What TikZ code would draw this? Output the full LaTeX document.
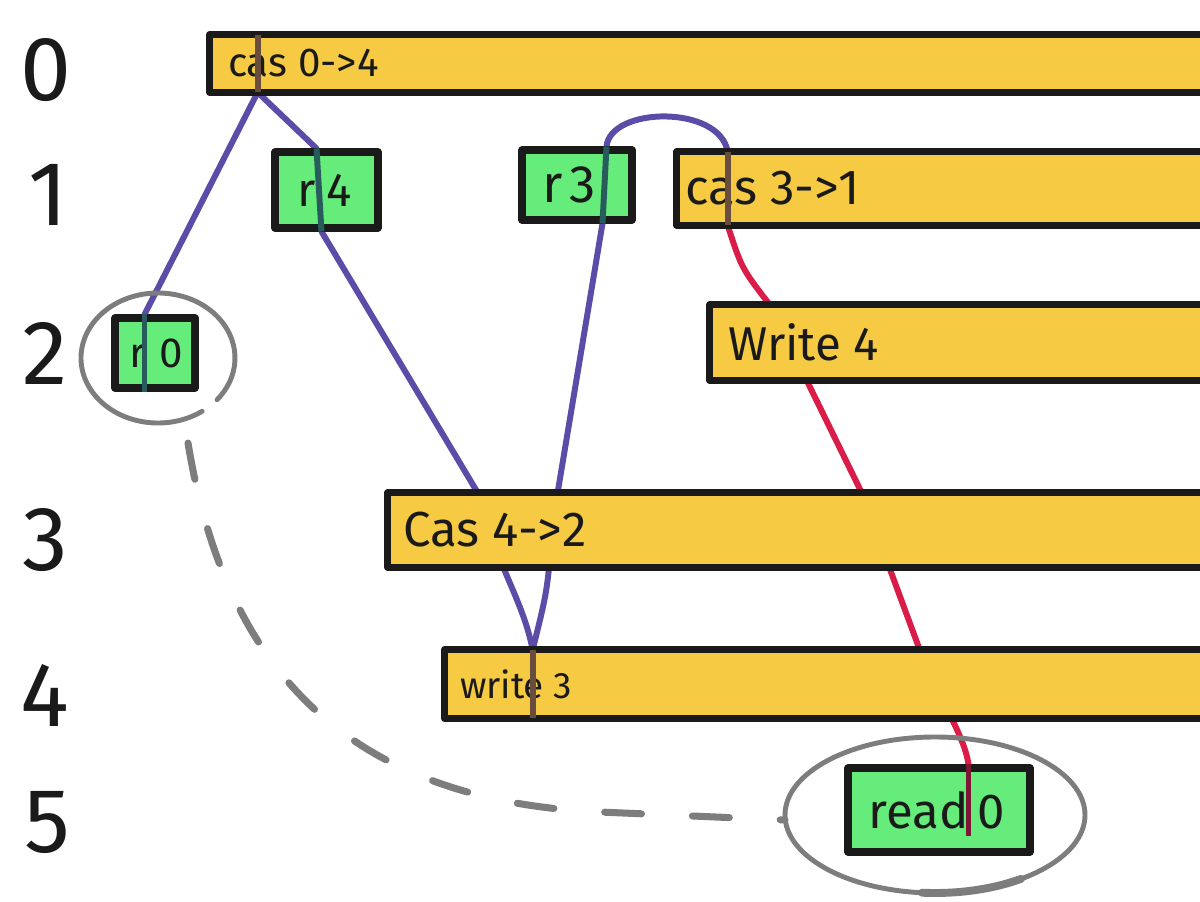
\documentclass[tikz,border=0pt]{standalone}
\usepackage{fontspec}
\setmainfont{Fira Sans}
\usetikzlibrary{calc,fit,backgrounds}

\definecolor{ink}{RGB}{26,26,26}
\definecolor{barfill}{RGB}{246,202,66}
\definecolor{boxfill}{RGB}{102,236,122}
\definecolor{purp}{RGB}{92,76,168}
\definecolor{redline}{RGB}{218,28,72}
\definecolor{halo}{RGB}{125,125,125}
\definecolor{onbar}{RGB}{105,78,62}
\definecolor{onbox}{RGB}{40,92,92}
\definecolor{redonbox}{RGB}{125,22,52}

\begin{document}
\begin{tikzpicture}[x=0.02cm,y=-0.02cm,
  bar/.style={fill=barfill, inner sep=0pt},
  outline/.style={draw=ink, line width=4pt, line cap=round, line join=round},
  gbox/.style={fill=boxfill, draw=ink, line width=4pt, inner sep=0pt, line join=round},
  rowlabel/.style={font=\fontsize{52}{52}\selectfont, text=ink, inner sep=0pt},
  bartext/.style={text=ink, inner sep=0pt, anchor=west},
  boxtext/.style={text=ink, inner sep=0pt},
  link/.style={line width=3.4pt, line cap=round, line join=round},
  hb/.style={link, draw=purp},
  rb/.style={link, draw=redline},
  eventline/.style={line width=3.4pt},
  ring/.style={draw=halo, line width=2.8pt, line cap=round},
  trail/.style={draw=halo, line width=4pt, line cap=round, dash pattern=on 21pt off 29pt}
]
\clip (0,0) rectangle (1200,902);

% row numbers
\node[rowlabel] (n0) at (46,70) {0};
\node[rowlabel] (n1) at (48,195) {1};
\node[rowlabel] (n2) at (45,353) {2};
\node[rowlabel] (n3) at (45,540) {3};
\node[rowlabel] (n4) at (45,695) {4};
\node[rowlabel] (n5) at (47,822) {5};

% long operations
\node[bar, fit={(210,35) (1215,92)}] (b0) {};
\node[bar, fit={(677,152) (1215,225)}] (b1) {};
\node[bar, fit={(710,305) (1215,380)}] (b2) {};
\node[bar, fit={(388,493) (1215,567)}] (b3) {};
\node[bar, fit={(445,650) (1215,718)}] (b4) {};
\foreach \b in {b0,b1,b2,b3,b4}
  \draw[outline] (\b.north east) -- (\b.north west) -- (\b.south west) -- (\b.south east);

\node[bartext, font=\fontsize{23}{23}\selectfont] (t0) at ($(b0.west)+(18,0)$) {cas 0->4};
\node[bartext, font=\fontsize{28}{28}\selectfont] (t1) at ($(b1.west)+(8,0)$) {cas 3->1};
\node[bartext, font=\fontsize{27}{27}\selectfont] (t2) at ($(b2.west)+(18,0)$) {Write 4};
\node[bartext, font=\fontsize{28}{28}\selectfont] (t3) at ($(b3.west)+(15,0)$) {Cas 4->2};
\node[bartext, font=\fontsize{21}{21}\selectfont] (t4) at ($(b4.west)+(15,0)$) {write 3};

% short reads
\node[gbox, fit={(275,152) (378,228)}] (r4) {};
\node[gbox, fit={(522,150) (632,220)}] (r3) {};
\node[gbox, fit={(115,318) (195,388)}] (r0) {};
\node[gbox, fit={(848,768) (1030,852)}] (read0) {};
\node[boxtext, font=\fontsize{27}{27}\selectfont] (r4t) at ($(r4)+(-2,0)$) {r\hspace{6pt}4};
\node[boxtext, font=\fontsize{30}{30}\selectfont] (r3t) at ($(r3)+(-8,0)$) {r\hspace{4pt}3};
\node[boxtext, font=\fontsize{24}{24}\selectfont] (r0t) at ($(r0)+(1,0)$) {r\hspace{8pt}0};
\node[boxtext, font=\fontsize{28}{28}\selectfont] (read0t) at ($(read0)+(-2,0)$) {read\hspace{5pt}0};

% attachment points
\coordinate (e0) at ($(b0.south west)+(48,0)$);
\coordinate (r0in) at ($(r0.north west)+(33,0)$);
\coordinate (r0out) at ($(r0.south west)+(33,0)$);
\coordinate (r4in) at ($(r4.north west)+(45,0)$);
\coordinate (r4out) at ($(r4.south west)+(50,0)$);
\coordinate (b3a) at ($(b3.north west)+(90,0)$);
\coordinate (w3) at ($(b4.north west)+(88,0)$);
\coordinate (r3out) at ($(r3.south west)+(84,0)$);
\coordinate (r3in) at ($(r3.north west)+(88,0)$);
\coordinate (c1) at ($(b1.north west)+(51,0)$);
\coordinate (c1b) at ($(b1.south west)+(51,0)$);
\coordinate (rd) at ($(read0.north west)+(124,0)$);

% connectors run underneath the boxes
\begin{pgfonlayer}{background}
  \draw[hb] (e0) -- (r0in);
  \draw[hb] (e0) -- (r4in);
  \draw[hb] (r4out) -- (b3a) .. controls ($(b3a)+(22,80)$) and ($(w3)+(-10,-50)$) .. (w3);
  \draw[hb] (w3) .. controls ($(w3)+(15,-60)$) .. ($(r3out)+(-50,300)$) -- (r3out);
  \draw[hb] (r3in) .. controls ($(r3in)+(4,-40)$) and ($(c1)+(-8,-47)$) .. (c1);
  \draw[rb] (c1b) .. controls ($(c1b)+(14,43)$) .. ($(b2.north west)+(60,0)$)
     -- ($(b3.north west)+(474,0)$) -- ($(b4.north west)+(475,0)$)
     .. controls ($(b4.north west)+(500,60)$) and ($(rd)+(-4,-28)$) .. (rd);
\end{pgfonlayer}

% where each connector meets an operation
\draw[eventline, draw=onbar] (e0) -- (e0 |- b0.north);
\draw[eventline, draw=onbar] (w3) -- (w3 |- b4.south);
\draw[eventline, draw=onbar] (c1) -- (c1b);
\draw[eventline, draw=onbox] (r0in) -- (r0out);
\draw[eventline, draw=onbox] (r4in) -- (r4out);
\draw[eventline, draw=onbox] (r3out) -- (r3in);
\draw[eventline, draw=redonbox] (rd) -- ($(rd)+(0,72)$);

% highlighted reads and the link between them
\coordinate (ring0) at ($(r0.center)+(3,5)$);
\coordinate (ringR) at ($(read0.center)+(-4,5)$);
\draw[ring] ($(ring0)+({77*cos(55)},{65*sin(55)})$)
  arc[start angle=55, end angle=400, x radius=77, y radius=65];
\draw[ring] (ringR) ellipse [x radius=150, y radius=78];
\draw[ring, line width=4.5pt] ($(ringR)+({150*cos(55)},{78*sin(55)})$)
  arc[start angle=55, end angle=95, x radius=150, y radius=78];
\coordinate (tr0) at ($(ring0)+(30,85)$);
\coordinate (tr1) at ($(ringR)+(-150,5)$);
\draw[trail] (tr0) .. controls (222,650) and (330,800) .. (600,812) -- (tr1);
\end{tikzpicture}
\end{document}
